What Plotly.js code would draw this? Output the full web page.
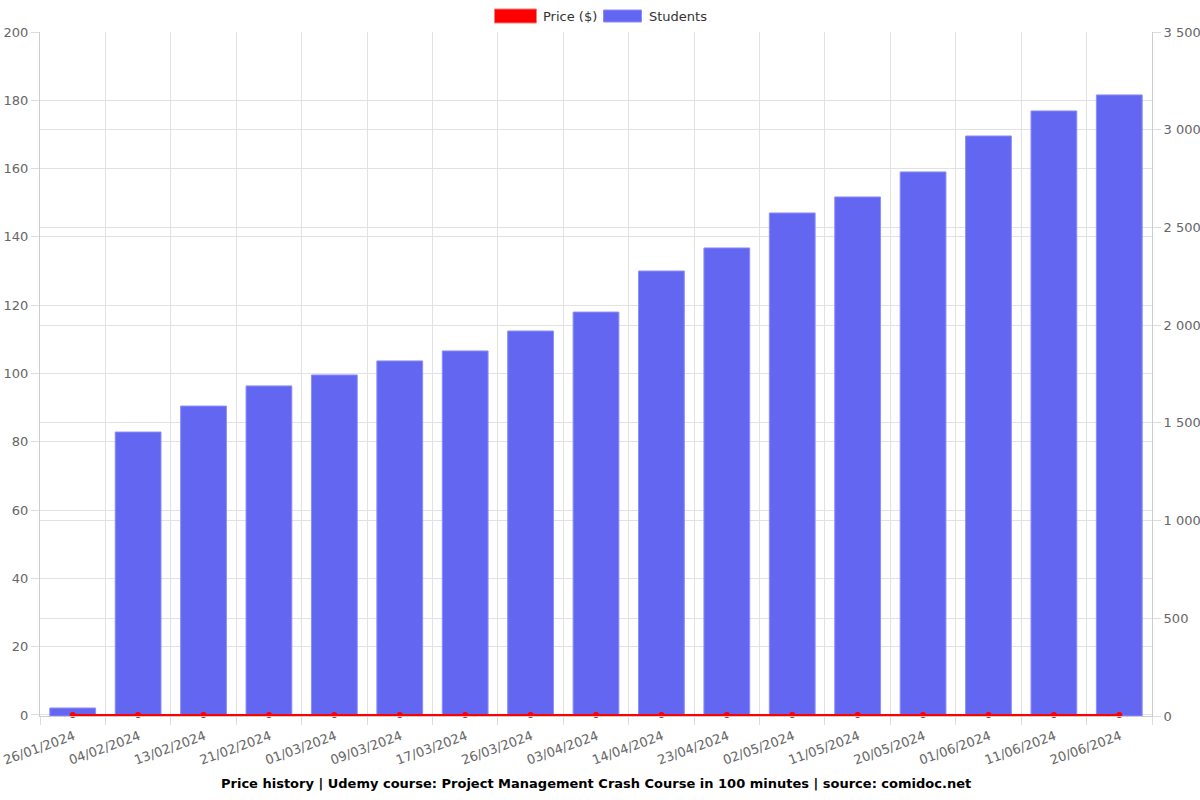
<!DOCTYPE html>
<html><head><meta charset="utf-8">
<script src="https://cdn.plot.ly/plotly-3.0.1.min.js"></script>
<style>body{margin:0;background:#fff}#chart{width:1200px;height:800px}</style>
</head><body><div id="chart"></div>
<script>
const dates = ["26/01/2024","04/02/2024","13/02/2024","21/02/2024","01/03/2024","09/03/2024","17/03/2024","26/03/2024","03/04/2024","14/04/2024","23/04/2024","02/05/2024","11/05/2024","20/05/2024","01/06/2024","11/06/2024","20/06/2024"];
const price = [0,0,0,0,0,0,0,0,0,0,0,0,0,0,0,0,0];
const students = [41,1453,1586,1689,1745,1817,1868,1970,2067,2277,2395,2574,2656,2784,2968,3096,3178];
const seriesNames = ["Price ($)", "Students"];
const seriesColors = ["rgb(255,0,0)", "rgb(99,102,241)"];

const traces = [
  {type:'bar', name:seriesNames[1], x:dates, y:students, xaxis:'x', yaxis:'y', width:0.7,
   marker:{color:seriesColors[1], line:{color:'rgba(140,142,250,1)', width:1}}},
  {type:'scatter', mode:'lines+markers', name:seriesNames[0], x:dates, y:price, xaxis:'x', yaxis:'y2',
   line:{color:seriesColors[0], width:2}, marker:{color:seriesColors[0], size:6}, cliponaxis:false}
];

const H = 684, W = 1112;
const legendShapes = [
  {type:'rect', xref:'paper', yref:'paper', x0:(494.5-40)/W, x1:(536.5-40)/W, y0:(716-23)/H, y1:(716-9)/H,
   fillcolor:seriesColors[0], line:{color:'rgba(255,120,120,1)', width:1}},
  {type:'rect', xref:'paper', yref:'paper', x0:(603.5-40)/W, x1:(641.5-40)/W, y0:(716-22)/H, y1:(716-10)/H,
   fillcolor:seriesColors[1], line:{color:'rgba(140,142,250,1)', width:1}}
];

const layout = {
  width:1200, height:800,
  paper_bgcolor:'#fff', plot_bgcolor:'#fff',
  font:{family:'DejaVu Sans, sans-serif', size:13, color:'#666'},
  separators:'. ',
  barmode:'overlay',
  margin:{l:40, r:48, t:32, b:84},
  showlegend:false,
  xaxis:{type:'category', range:[-0.5, dates.length-0.5], tickson:'boundaries', showgrid:true, gridcolor:'#e2e2e2', tickangle:-20, automargin:false,
    ticks:'outside', ticklen:8, tickcolor:'#ddd', ticklabelstandoff:7, ticklabelshift:1, showline:true, linecolor:'#ccc', tickfont:{size:13, color:'#666'}},
  yaxis:{side:'right', range:[0,3500], dtick:500, tickformat:',d', showgrid:true, gridcolor:'#e2e2e2', automargin:false,
    showline:true, linecolor:'#ccc', ticks:'outside', ticklen:8, tickcolor:'#ddd', zeroline:false, tickfont:{size:13, color:'#666'}},
  yaxis2:{overlaying:'y', side:'left', range:[-0.3,200], tickvals:[0,20,40,60,80,100,120,140,160,180,200], showgrid:true, gridcolor:'#e2e2e2', automargin:false,
    showline:true, linecolor:'#ccc', ticks:'outside', ticklen:8, tickcolor:'#ddd', zeroline:false, tickfont:{size:13, color:'#666'}},
  shapes:legendShapes,
  annotations:[
    {text:seriesNames[0], xref:'paper', yref:'paper', x:(541-40)/W, xanchor:'left', y:(716-16)/H, yanchor:'middle', showarrow:false, font:{size:13, color:'#333'}},
    {text:seriesNames[1], xref:'paper', yref:'paper', x:(647-40)/W, xanchor:'left', y:(716-16)/H, yanchor:'middle', showarrow:false, font:{size:13, color:'#333'}},
    {text:'<b>Price history | Udemy course: Project Management Crash Course in 100 minutes | source: comidoc.net</b>',
    xref:'paper', yref:'paper', x:0.5, xanchor:'center', y:-(783.5-716)/H, yanchor:'middle', showarrow:false,
    font:{size:13, color:'#000'}}]
};
Plotly.newPlot('chart', traces, layout, {displayModeBar:false});
</script></body></html>
